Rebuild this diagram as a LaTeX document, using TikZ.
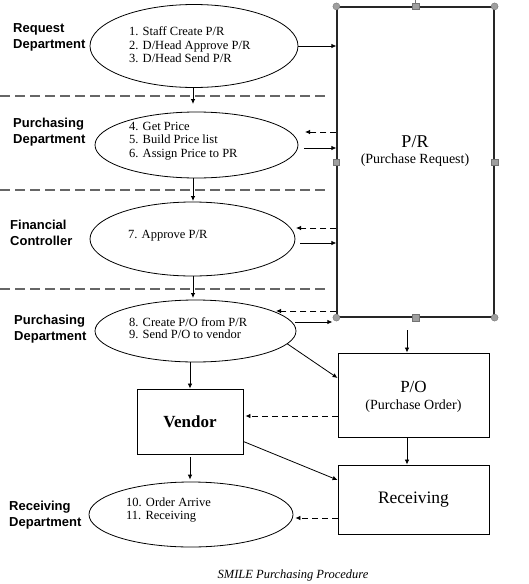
\documentclass[tikz,border=0pt]{standalone}
\usepackage{fontspec}
\setmainfont{Liberation Serif}
\newfontfamily\lblfont{Liberation Sans}
\usetikzlibrary{shapes.geometric,arrows.meta}
\begin{document}
\begin{tikzpicture}[x=1pt,y=-1pt,
  lane/.style={draw, line width=1.3pt, dash pattern=on 10pt off 5pt, gray!80!black},
  proc/.style={draw, ellipse, line width=0.8pt, inner sep=0pt},
  box/.style={draw, line width=0.9pt, inner sep=0pt},
  arr/.style={-{Latex[length=5pt,width=4.5pt]}, line width=0.8pt},
  darr/.style={arr, dash pattern=on 6pt off 4pt},
  dept/.style={font=\lblfont\bfseries\fontsize{13}{16.5}\selectfont, align=left, anchor=west, inner sep=0pt},
  steptext/.style={font=\fontsize{12.5}{13.5}\selectfont, align=left, anchor=west, inner sep=0pt},
  hcirc/.style={circle, fill=gray!75, draw=gray!90!black, line width=0.4pt, minimum size=7pt, inner sep=0pt},
  hsq/.style={rectangle, fill=gray!75, draw=gray!90!black, line width=0.4pt, minimum size=6.5pt, inner sep=0pt}
]
\useasboundingbox (0,0) rectangle (528,584);

% lane separators
\draw[lane] (0,96) -- (328,96);
\draw[lane] (0,190) -- (328,190);
\draw[lane] (0,289) -- (328,289);

% department labels
\node[dept] (l1) at (13,37.5) {Request\\Department};
\node[dept] (l2) at (13,132) {Purchasing\\Department};
\node[dept] (l3) at (10,233) {Financial\\Controller};
\node[dept] (l4) at (14,329) {Purchasing\\Department};
\node[dept] (l5) at (9,515) {Receiving\\Department};

% ellipses
\node[proc, minimum width=208pt, minimum height=83pt] (e1) at (194,46) {};
\node[proc, minimum width=203pt, minimum height=66pt] (e2) at (196.5,145) {};
\node[proc, minimum width=205pt, minimum height=74pt] (e3) at (192.5,239) {};
\node[proc, minimum width=201pt, minimum height=62pt] (e4) at (195.5,331) {};
\node[proc, minimum width=204pt, minimum height=65pt] (e5) at (191,514.5) {};

\node[steptext] (t1) at (129,45) {1. Staff Create P/R\\2. D/Head Approve P/R\\3. D/Head Send P/R};
\node[steptext] (t2) at (129,141) {4. Get Price\\5. Build Price list\\6. Assign Price to PR};
\node[steptext] (t3) at (128,236) {7. Approve P/R};
\node[steptext, font=\fontsize{12.5}{12}\selectfont] (t4) at (129,328) {8. Create P/O from P/R\\9. Send P/O to vendor};
\node[steptext] (t5) at (126,510) {10. Order Arrive\\11. Receiving};

% boxes
\node[box, draw=gray!30!black, line width=1.2pt, minimum width=157pt, minimum height=310pt] (pr) at (415.5,162) {};
\node (prt) at (415,142) {\fontsize{18}{20}\selectfont P/R};
\node (prs) at (415,160) {\fontsize{14}{16}\selectfont (Purchase Request)};

\node[box, minimum width=151pt, minimum height=84pt] (po) at (413.5,395) {};
\node (pot) at (413.5,387) {\fontsize{17}{19}\selectfont P/O};
\node (pos) at (413.5,406) {\fontsize{14}{16}\selectfont (Purchase Order)};

\node[box, minimum width=151pt, minimum height=69pt] (rec) at (413.5,499.5) {\fontsize{17.5}{19}\selectfont Receiving};
\node[box, minimum width=106pt, minimum height=65pt] (ven) at (190,421.5) {\fontsize{17}{19}\selectfont\bfseries Vendor};

% selection handles of P/R
\draw[gray!90!black, line width=0.6pt] (pr.north) -- ++(0,-7);
\node[hcirc] (h1) at (pr.north west) {};
\node[hcirc] (h2) at (pr.north east) {};
\node[hcirc] (h3) at (pr.south west) {};
\node[hcirc] (h4) at (pr.south east) {};
\node[hsq] (h5) at (pr.north) {};
\node[hsq] (h6) at (pr.south) {};
\node[hsq] (h7) at (pr.west) {};
\node[hsq] (h8) at (pr.east) {};

% free ends
\coordinate (c1) at (193,104);
\coordinate (c2) at (193,201);
\coordinate (c3) at (193,298);
\coordinate (d2) at (305,132);
\coordinate (s2) at (304,148);
\coordinate (d3) at (296,228);
\coordinate (s3) at (300,243);
\coordinate (d4) at (276,311);
\coordinate (s4) at (295,322);
\coordinate (p1) at (407,330);
\coordinate (v1) at (338,416);
\coordinate (r1) at (338,518);

% vertical flow
\draw[arr] (e1.south -| c1) -- (c1);
\draw[arr] (e2.south -| c2) -- (c2);
\draw[arr] (e3.south -| c3) -- (c3);

% to and from P/R
\draw[arr] (e1.east) -- (pr.west |- e1.east);
\draw[darr] (pr.west |- d2) -- (d2);
\draw[arr] (s2) -- (pr.west |- s2);
\draw[darr] (pr.west |- d3) -- (d3);
\draw[arr] (s3) -- (pr.west |- s3);
\draw[darr] (pr.west |- d4) -- (d4);
\draw[arr] (s4) -- ([xshift=-4pt]pr.west |- s4);

% lower part
\draw[arr] (p1) -- (p1 |- po.north);
\draw[arr] (e4.-8) -- ([yshift=17pt]po.west);
\draw[arr] (e4.south -| ven.north) -- (ven.north);
\draw[darr] (po.west |- v1) -- ([xshift=2pt]ven.east |- v1);
\draw[arr] (po.south -| p1) -- (rec.north -| p1);
\draw[arr] ([yshift=-20pt]ven.east) -- ([yshift=19.5pt]rec.west);
\draw[arr] ([yshift=-3pt]ven.south) -- ([yshift=2pt]e5.north -| ven.south);
\draw[darr] (rec.west |- r1) -- ([xshift=2pt]e5.east |- r1);

% caption
\node[font=\itshape\fontsize{12.5}{14}\selectfont] (cap) at (293,575) {SMILE Purchasing Procedure};
\end{tikzpicture}
\end{document}
